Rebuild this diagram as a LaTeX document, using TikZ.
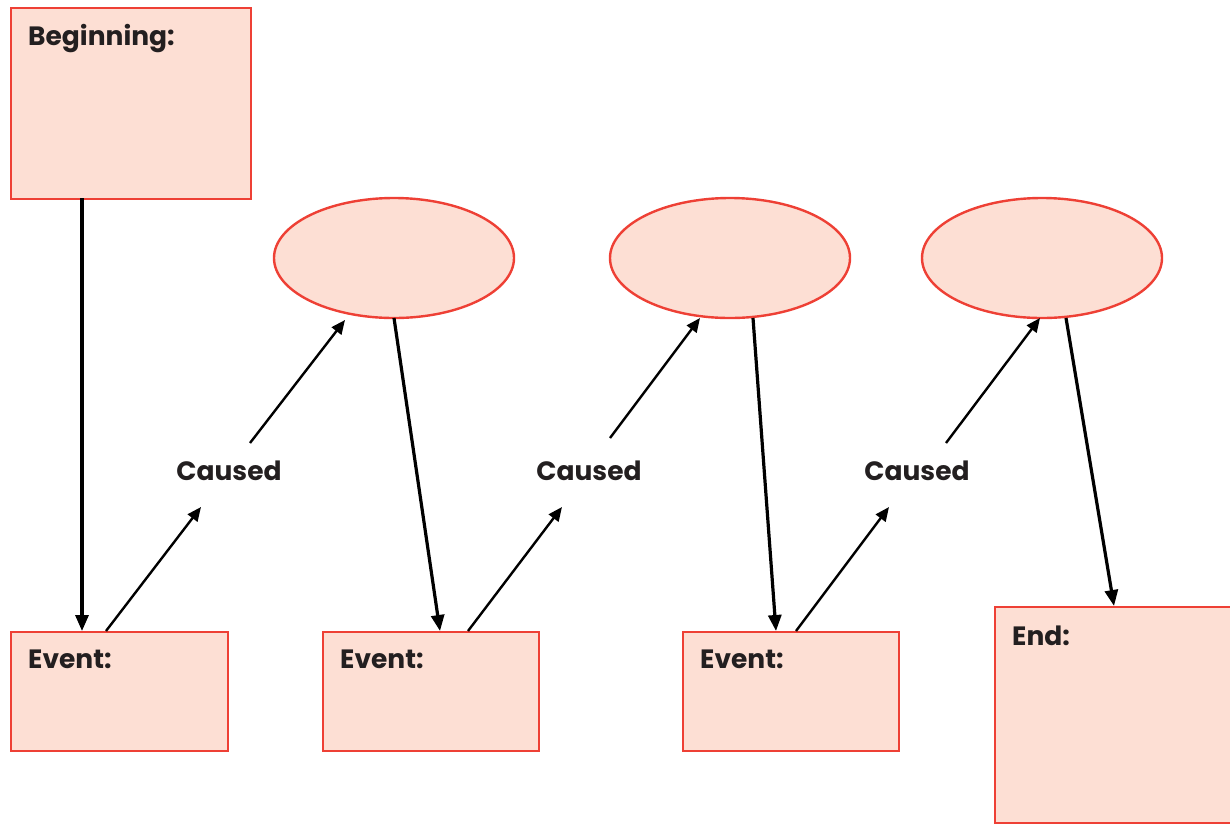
\documentclass[tikz,border=0pt]{standalone}
\usepackage{fontspec}
\setmainfont{Poppins}[BoldFont={Poppins Bold}]
\usetikzlibrary{shapes.geometric,arrows.meta}
\definecolor{boxfill}{HTML}{FDDFD4}
\definecolor{boxline}{HTML}{EE4035}
\definecolor{txt}{HTML}{231F20}
\begin{document}
\begin{tikzpicture}[x=1pt,y=-1pt,
  box/.style={draw=boxline,fill=boxfill,line width=2.4pt,inner sep=0pt},
  oval/.style={ellipse,draw=boxline,fill=boxfill,line width=2.4pt,inner sep=0pt,minimum width=240pt,minimum height=120pt},
  lbl/.style={font=\bfseries\fontsize{26.5}{30}\selectfont,text=txt,anchor=base west,inner sep=0pt},
  cause/.style={font=\bfseries\fontsize{26.5}{30}\selectfont,text=txt,anchor=base,inner sep=0pt},
  thickarrow/.style={line width=3.2pt,-{Triangle[length=16pt,width=13pt]}},
  thinarrow/.style={line width=2.4pt,-{Triangle[length=14pt,width=12pt]}}]
\useasboundingbox (0,0) rectangle (1230,823);
% boxes
\node[box,minimum width=240pt,minimum height=191pt,anchor=north west] (beg) at (10,7) {};
\node[lbl] (begl) at (28,45) {Beginning:};
\node[box,minimum width=217pt,minimum height=119pt,anchor=north west] (ev1) at (10,631) {};
\node[lbl] (ev1l) at (28,668) {Event:};
\node[box,minimum width=216pt,minimum height=119pt,anchor=north west] (ev2) at (322,631) {};
\node[lbl] (ev2l) at (340,668) {Event:};
\node[box,minimum width=216pt,minimum height=119pt,anchor=north west] (ev3) at (682,631) {};
\node[lbl] (ev3l) at (700,668) {Event:};
\node[box,minimum width=240pt,minimum height=216pt,anchor=north west] (end) at (994,606) {};
\node[lbl] (endl) at (1012,645) {End:};
% ellipses
\node[oval] (o1) at (394,258) {};
\node[oval] (o2) at (730,258) {};
\node[oval] (o3) at (1042,258) {};
% caused labels
\node[cause] (c1) at (229,480) {Caused};
\node[cause] (c2) at (589,480) {Caused};
\node[cause] (c3) at (917,480) {Caused};
% coordinates
\coordinate (a0) at (82,198);
\coordinate (a1) at (82,631);
\coordinate (b1s) at (106,631);
\coordinate (b1e) at (201,507);
\coordinate (b2s) at (250,443);
\coordinate (b2e) at (345,320);
\coordinate (d1s) at (394,318);
\coordinate (d1e) at (440,631);
\coordinate (b3s) at (468,631);
\coordinate (b3e) at (562,507);
\coordinate (b4s) at (610,438);
\coordinate (b4e) at (700,318);
\coordinate (d2s) at (753,318);
\coordinate (d2e) at (776,631);
\coordinate (b5s) at (796,631);
\coordinate (b5e) at (889,507);
\coordinate (b6s) at (946,443);
\coordinate (b6e) at (1040,318);
\coordinate (d3s) at (1066,318);
\coordinate (d3e) at (1114,606);
% arrows
\draw[thickarrow] (a0) -- (a1);
\draw[thinarrow] (b1s) -- (b1e);
\draw[thinarrow] (b2s) -- (b2e);
\draw[thickarrow] (d1s) -- (d1e);
\draw[thinarrow] (b3s) -- (b3e);
\draw[thinarrow] (b4s) -- (b4e);
\draw[thickarrow] (d2s) -- (d2e);
\draw[thinarrow] (b5s) -- (b5e);
\draw[thinarrow] (b6s) -- (b6e);
\draw[thickarrow] (d3s) -- (d3e);
\end{tikzpicture}
\end{document}
